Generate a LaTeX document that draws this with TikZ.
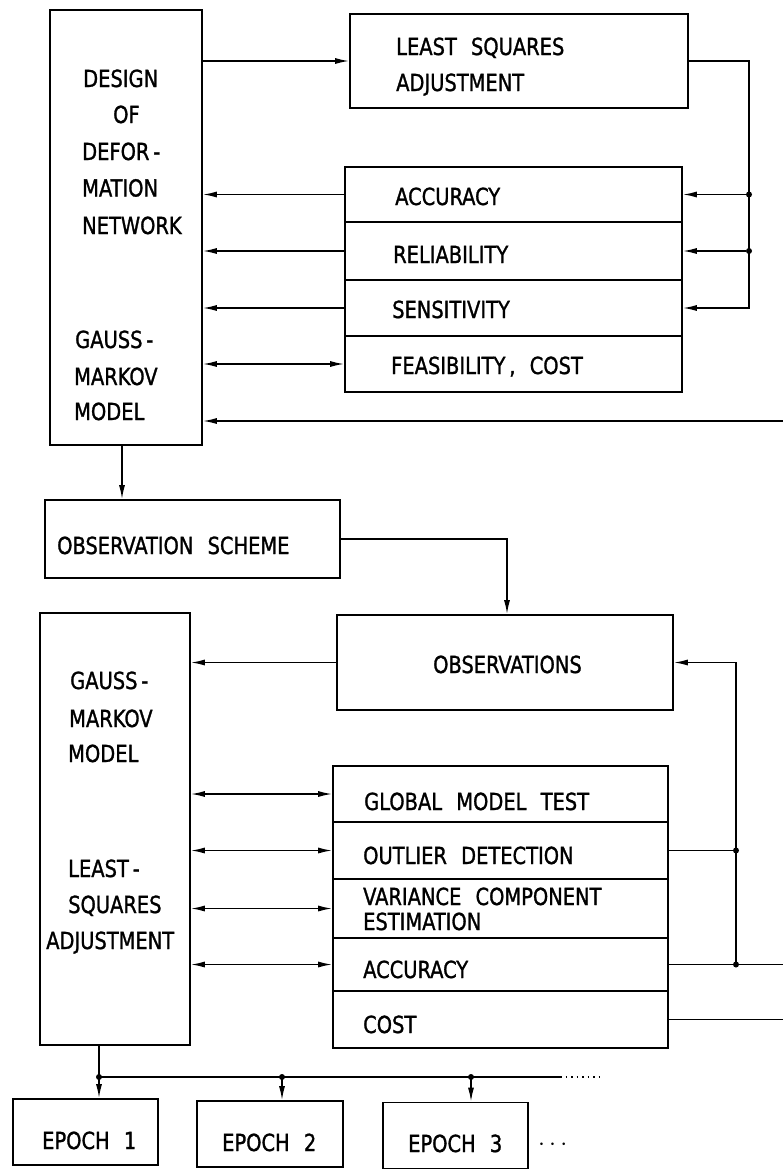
\documentclass[tikz,border=0pt]{standalone}
\usepackage{fontspec}
\setmainfont{DejaVu Sans Condensed}[WordSpace=2.3, FakeBold=1.2, FakeStretch=0.92]
\usetikzlibrary{arrows.meta}
\begin{document}
\begin{tikzpicture}[x=1pt,y=-1pt,
  box/.style={draw, line width=1.6pt, inner sep=0pt},
  lbl/.style={anchor=base west, inner sep=0pt, font=\fontsize{23.5}{26}\selectfont},
  wire/.style={line width=1.5pt},
  tip/.tip={Latex[length=14pt,width=6pt]},
  arr/.style={wire, -tip},
  dbl/.style={wire, tip-tip},
  dot/.style={circle, fill, inner sep=0pt, minimum size=6pt}]
\useasboundingbox (0,0) rectangle (783,1175);

% ---------- design stage ----------
\node[box, minimum width=152pt, minimum height=435pt] (design) at (126,227.5) {};
\node[lbl] (d1) at (83,87) {DESIGN};
\node[lbl] (d2) at (113,123) {OF};
\node[lbl] (d3) at (82,160) {DEFOR\,-};
\node[lbl] (d4) at (82,196.5) {MATION};
\node[lbl] (d5) at (82,234) {NETWORK};
\node[lbl] (d6) at (75,348) {GAUSS\,-};
\node[lbl] (d7) at (74,385) {MARKOV};
\node[lbl] (d8) at (74,420) {MODEL};

\node[box, minimum width=338pt, minimum height=94pt] (lsa) at (519,61) {};
\node[lbl] (l1) at (396,55) {LEAST SQUARES};
\node[lbl] (l2) at (396,91) {ADJUSTMENT};

\node[box, minimum width=337pt, minimum height=55pt] (acc1) at (513.5,194.5) {};
\node[box, minimum width=337pt, minimum height=58pt] (rel) at (513.5,251) {};
\node[box, minimum width=337pt, minimum height=56pt] (sens) at (513.5,308) {};
\node[box, minimum width=337pt, minimum height=56pt] (feas) at (513.5,364) {};
\node[lbl] (c1) at (395,205) {ACCURACY};
\node[lbl] (c2) at (393,263) {RELIABILITY};
\node[lbl] (c3) at (392,318) {SENSITIVITY};
\node[lbl] (c4) at (391,374) {FEASIBILITY\,, COST};

\draw[arr] (design.east |- lsa.west) -- (lsa.west);
\coordinate (bus1) at (749,0);
\draw[arr] (lsa.east) -| (bus1 |- sens.east) -- (sens.east);
\node[dot] (j1) at (bus1 |- acc1.east) {};
\node[dot] (j2) at (bus1 |- rel.east) {};
\draw[arr] (j1) -- (acc1.east);
\draw[arr] (j2) -- (rel.east);
\draw[arr] (acc1.west) -- (acc1.west -| design.east);
\draw[arr] (rel.west) -- (rel.west -| design.east);
\draw[arr] (sens.west) -- (sens.west -| design.east);
\draw[dbl] (feas.west -| design.east) -- (feas.west);
\coordinate (fb) at (783,421);
\draw[arr] (fb) -- (fb -| design.east);

% ---------- observation scheme ----------
\node[box, minimum width=295pt, minimum height=78pt] (scheme) at (192.5,539) {};
\node[lbl] (s1) at (57,554) {OBSERVATION SCHEME};
\draw[arr] ([xshift=-4pt]design.south) -- ([xshift=-4pt]design.south |- scheme.north);

\node[box, minimum width=336pt, minimum height=95pt] (obs) at (505,662.5) {};
\node[lbl] (o1) at (433,673) {OBSERVATIONS};
\draw[arr] (scheme.east) -| ([xshift=2pt]obs.north);

% ---------- adjustment stage ----------
\node[box, minimum width=150pt, minimum height=432pt] (gauss) at (115,829) {};
\node[lbl] (g1) at (70,689) {GAUSS\,-};
\node[lbl] (g2) at (69,727) {MARKOV};
\node[lbl] (g3) at (68,762) {MODEL};
\node[lbl] (g4) at (68,877) {LEAST\,-};
\node[lbl] (g5) at (68,913) {SQUARES};
\node[lbl] (g6) at (46,949) {ADJUSTMENT};
\draw[arr] (obs.west) -- (obs.west -| gauss.east);

\node[box, minimum width=335pt, minimum height=56pt] (glob) at (500.5,794) {};
\node[box, minimum width=335pt, minimum height=57pt] (outl) at (500.5,850.5) {};
\node[box, minimum width=335pt, minimum height=59pt] (var) at (500.5,908.5) {};
\node[box, minimum width=335pt, minimum height=53pt] (acc2) at (500.5,964.5) {};
\node[box, minimum width=335pt, minimum height=57pt] (cost) at (500.5,1019.5) {};
\node[lbl] (q1) at (364,810) {GLOBAL MODEL TEST};
\node[lbl] (q2) at (363,864) {OUTLIER DETECTION};
\node[lbl] (q3) at (363,905) {VARIANCE COMPONENT};
\node[lbl] (q4) at (363,930) {ESTIMATION};
\node[lbl] (q5) at (363,978) {ACCURACY};
\node[lbl] (q6) at (363,1033) {COST};

\draw[dbl] (glob.west -| gauss.east) -- (glob.west);
\draw[dbl] (outl.west -| gauss.east) -- (outl.west);
\draw[dbl] (var.west -| gauss.east) -- (var.west);
\draw[dbl] (acc2.west -| gauss.east) -- (acc2.west);

\coordinate (bus2) at (736,0);
\coordinate (rim) at (783,0);
\node[dot] (j3) at (bus2 |- outl.east) {};
\node[dot] (j4) at (bus2 |- acc2.east) {};
\draw[wire] (outl.east) -- (j3);
\draw[arr] (j4.center) -- (bus2 |- obs.east) -- (obs.east);
\draw[wire] (acc2.east) -- (acc2.east -| rim);
\draw[wire] (cost.east) -- (cost.east -| rim);

% ---------- epochs ----------
\node[box, minimum width=145pt, minimum height=66pt] (ep1) at (85.5,1132) {};
\node[box, minimum width=146pt, minimum height=66pt] (ep2) at (270,1134) {};
\node[box, minimum width=145pt, minimum height=66pt] (ep3) at (455.5,1135.5) {};
\node[lbl] (e1) at (42,1149) {EPOCH 1};
\node[lbl] (e2) at (222,1151) {EPOCH 2};
\node[lbl] (e3) at (408,1152) {EPOCH 3};
\node[lbl] (e4) at (538,1150) {$\cdots$};

\coordinate (split) at (99,1077);
\node[dot] (j5) at (split) {};
\node[dot] (j6) at (282,1077) {};
\node[dot] (j7) at (471,1077) {};
\coordinate (busend) at (560,1077);
\coordinate (busfade) at (600,1077);
\draw[arr] (split |- gauss.south) -- (split |- ep1.north);
\draw[wire] (split) -- (busend);
\draw[wire, dash pattern=on 1.5pt off 4pt] (busend) -- (busfade);
\draw[arr] (j6.center) -- (j6 |- ep2.north);
\draw[arr] (j7.center) -- (j7 |- ep3.north);
\end{tikzpicture}
\end{document}
